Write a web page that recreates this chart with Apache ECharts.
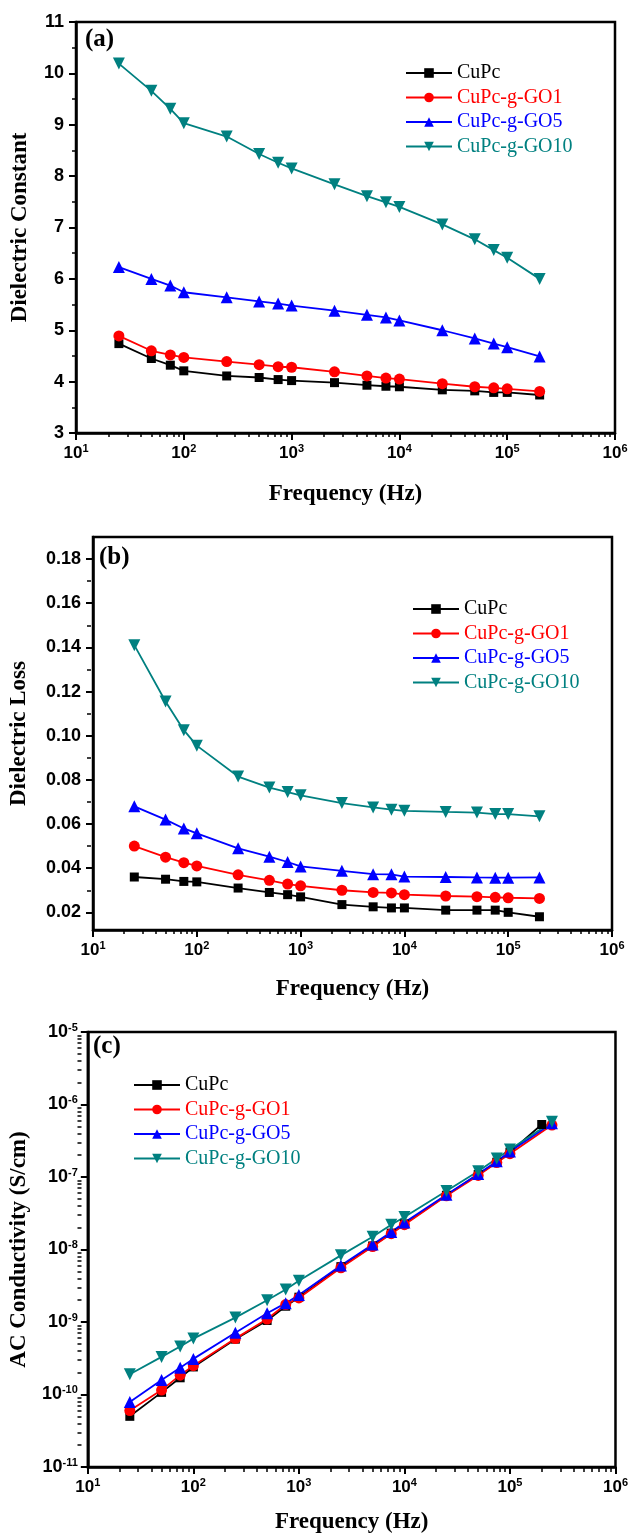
<!DOCTYPE html>
<html>
<head>
<meta charset="utf-8">
<script src="https://cdn.jsdelivr.net/npm/echarts@6/dist/echarts.min.js"></script>
<style>
  html, body { margin: 0; padding: 0; background: #fff; }
</style>
</head>
<body>
<div id="chart" style="width:631px;height:1535px;"></div>
<script>
// frequencies (Hz)
const freq = [25, 50, 75, 100, 250, 500, 750, 1000, 2500, 5000, 7500, 10000, 25000, 50000, 75000, 100000, 200000];
const freqCond = [25, 50, 75, 100, 250, 500, 750, 1000, 2500, 5000, 7500, 10000, 25000, 50000, 75000, 100000, 250000];

// (a) dielectric constant
const constCuPc = [4.74, 4.45, 4.32, 4.21, 4.11, 4.08, 4.04, 4.02, 3.98, 3.93, 3.91, 3.90, 3.84, 3.82, 3.79, 3.79, 3.74];
const constGO1 = [4.89, 4.60, 4.52, 4.47, 4.39, 4.33, 4.29, 4.28, 4.19, 4.11, 4.07, 4.05, 3.96, 3.90, 3.88, 3.86, 3.81];
const constGO5 = [6.23, 6.00, 5.87, 5.74, 5.64, 5.56, 5.52, 5.48, 5.38, 5.30, 5.25, 5.19, 5.00, 4.84, 4.74, 4.67, 4.49];
const constGO10 = [10.19, 9.66, 9.31, 9.03, 8.77, 8.43, 8.26, 8.15, 7.84, 7.61, 7.49, 7.40, 7.06, 6.77, 6.56, 6.41, 6.00];

// (b) dielectric loss
const lossCuPc = [0.036, 0.035, 0.034, 0.0338, 0.031, 0.029, 0.028, 0.027, 0.0235, 0.0225, 0.022, 0.022, 0.021, 0.021, 0.021, 0.020, 0.018];
const lossGO1 = [0.050, 0.045, 0.0425, 0.041, 0.037, 0.0345, 0.0328, 0.032, 0.030, 0.029, 0.0288, 0.028, 0.0274, 0.0271, 0.0268, 0.0266, 0.0263];
const lossGO5 = [0.068, 0.062, 0.058, 0.0558, 0.049, 0.0452, 0.0428, 0.0408, 0.0388, 0.0373, 0.0372, 0.0362, 0.0360, 0.0358, 0.0357, 0.0357, 0.0358];
const lossGO10 = [0.141, 0.1155, 0.1025, 0.0955, 0.0815, 0.0765, 0.0745, 0.073, 0.0695, 0.0675, 0.0665, 0.066, 0.0655, 0.0652, 0.0645, 0.0645, 0.0635];

// (c) AC conductivity (S/cm); CuPc uses freq, the others freqCond
const condCuPc = [5.0e-11, 1.07e-10, 1.7e-10, 2.4e-10, 5.8e-10, 1.05e-9, 1.65e-9, 2.2e-9, 5.8e-9, 1.12e-8, 1.68e-8, 2.25e-8, 5.6e-8, 1.08e-7, 1.6e-7, 2.2e-7, 5.3e-7];
const condGO1 = [6.0e-11, 1.15e-10, 1.85e-10, 2.5e-10, 5.9e-10, 1.1e-9, 1.74e-9, 2.15e-9, 5.6e-9, 1.1e-8, 1.65e-8, 2.2e-8, 5.5e-8, 1.05e-7, 1.58e-7, 2.1e-7, 5.2e-7];
const condGO5 = [7.9e-11, 1.58e-10, 2.33e-10, 3.1e-10, 7.1e-10, 1.32e-9, 1.82e-9, 2.35e-9, 6.0e-9, 1.17e-8, 1.75e-8, 2.35e-8, 5.7e-8, 1.1e-7, 1.65e-7, 2.25e-7, 5.5e-7];
const condGO10 = [1.9e-10, 3.3e-10, 4.6e-10, 5.9e-10, 1.15e-9, 2.0e-9, 2.8e-9, 3.7e-9, 8.3e-9, 1.5e-8, 2.2e-8, 2.8e-8, 6.4e-8, 1.2e-7, 1.8e-7, 2.4e-7, 5.8e-7];

const names = ['CuPc', 'CuPc-g-GO1', 'CuPc-g-GO5', 'CuPc-g-GO10'];
const colors = ['#000000', '#ff0000', '#0000ff', '#008080'];
const lossTicks = [0.02, 0.04, 0.06, 0.08, 0.10, 0.12, 0.14, 0.16, 0.18];
const lossMinorTicks = [0.03, 0.05, 0.07, 0.09, 0.11, 0.13, 0.15, 0.17];

const sans = 'Liberation Sans, Arial, sans-serif';
const serif = 'Liberation Serif, Times New Roman, serif';

// minor tick positions of a log axis, in log10 units for a helper value axis
function logMinor(lo, hi) {
    let out = [];
    for (let d = lo; d < hi; d++) {
        for (let k = 2; k <= 9; k++) out.push(d + Math.log10(k));
    }
    return out;
}

let myChart = echarts.init(document.getElementById('chart'));

let supRich = function (sup) {
    return {
        s: { fontSize: sup, fontWeight: 'bold', fontFamily: sans, color: '#000', verticalAlign: 'top', lineHeight: 12 }
    };
};
let powLabel = function (v) {
    return '10{s|' + Math.round(Math.log10(v)) + '}';
};

function mainX(grid, nameGap) {
    return {
        type: 'log', gridIndex: grid, min: 10, max: 1000000, logBase: 10,
        name: 'Frequency (Hz)', nameLocation: 'middle', nameGap: nameGap,
        nameTextStyle: { fontFamily: serif, fontWeight: 'bold', fontSize: 23, color: '#000' },
        axisLine: { onZero: false, lineStyle: { color: '#000', width: 2.5 } },
        axisTick: { inside: false, length: 7, lineStyle: { color: '#000', width: 2 } },
        axisLabel: {
            formatter: powLabel, fontSize: 17, fontWeight: 'bold', fontFamily: sans, color: '#000',
            margin: 10, lineHeight: 20, rich: supRich(11)
        },
        splitLine: { show: false }
    };
}
// helper axis that only draws minor ticks; placed on the far side and shifted onto the main axis
function minorAxis(grid, lo, hi, ticks, pos, shift) {
    return {
        type: 'value', gridIndex: grid, min: lo, max: hi, position: pos, offset: -shift,
        axisLine: { show: false, onZero: false },
        axisLabel: { show: false },
        splitLine: { show: false },
        axisTick: { show: true, inside: true, length: 4, customValues: ticks, lineStyle: { color: '#000', width: 1.5 } }
    };
}

let yName = { fontFamily: serif, fontWeight: 'bold', fontSize: 23, color: '#000' };
let yLine = { onZero: false, lineStyle: { color: '#000', width: 2.5 } };

let syms = [
    { symbol: 'rect', size: 9, rotate: 0 },
    { symbol: 'circle', size: 11, rotate: 0 },
    { symbol: 'triangle', size: 12, rotate: 0 },
    { symbol: 'triangle', size: 12, rotate: 180 }
];

let seriesData = [];
function addSeries(i, xi, yi, xs, ys) {
    seriesData.push({
        name: names[i],
        type: 'line',
        xAxisIndex: xi,
        yAxisIndex: yi,
        symbol: syms[i].symbol,
        symbolSize: syms[i].size,
        symbolRotate: syms[i].rotate,
        showAllSymbol: true,
        itemStyle: { color: colors[i] },
        lineStyle: { color: colors[i], width: 1.8 },
        data: xs.map(function (f, k) { return [f, ys[k]]; })
    });
}
[constCuPc, constGO1, constGO5, constGO10].forEach(function (ys, i) { addSeries(i, 0, 0, freq, ys); });
[lossCuPc, lossGO1, lossGO5, lossGO10].forEach(function (ys, i) { addSeries(i, 2, 1, freq, ys); });
addSeries(0, 4, 3, freq, condCuPc);
[condGO1, condGO5, condGO10].forEach(function (ys, i) { addSeries(i + 1, 4, 3, freqCond, ys); });

function makeLegend(left, top) {
    return {
        orient: 'vertical', left: left, top: top,
        itemWidth: 46, itemHeight: 12, itemGap: 4.5,
        selectedMode: false,
        textStyle: { fontFamily: serif, fontSize: 20, lineHeight: 20 },
        data: names.map(function (n, i) { return { name: n, textStyle: { color: colors[i] } }; })
    };
}

let option = {
    animation: false,
    backgroundColor: '#fff',
    grid: [
        { left: 76, top: 22, width: 539, height: 411, show: true, borderColor: '#000', borderWidth: 2.5 },
        { left: 91, top: 537, width: 521, height: 393, show: true, borderColor: '#000', borderWidth: 2.5 },
        { left: 84, top: 1032, width: 534, height: 436, show: true, borderColor: '#000', borderWidth: 2.5 }
    ],
    legend: [makeLegend(400, 58), makeLegend(407, 594), makeLegend(128, 1070)],
    xAxis: [
        mainX(0, 50),
        minorAxis(0, 1, 6, logMinor(1, 6), 'top', 411),
        mainX(1, 48),
        minorAxis(1, 1, 6, logMinor(1, 6), 'top', 393),
        mainX(2, 44),
        minorAxis(2, 1, 6, logMinor(1, 6), 'top', 436)
    ],
    yAxis: [
        {
            type: 'value', gridIndex: 0, min: 3, max: 11, interval: 1,
            name: 'Dielectric Constant', nameLocation: 'middle', nameGap: 44, nameTextStyle: yName,
            axisLine: yLine,
            axisTick: { inside: false, length: 7, lineStyle: { color: '#000', width: 2 } },
            minorTick: { show: true, splitNumber: 2, length: 4, lineStyle: { color: '#000', width: 1.5 } },
            axisLabel: { fontSize: 18, fontWeight: 'bold', fontFamily: sans, color: '#000', margin: 12 },
            splitLine: { show: false }
        },
        {
            type: 'value', gridIndex: 1, min: 0.012, max: 0.19,
            name: 'Dielectric Loss', nameLocation: 'middle', nameGap: 62, nameTextStyle: yName,
            axisLine: yLine,
            axisTick: { inside: false, length: 7, customValues: lossTicks, lineStyle: { color: '#000', width: 2 } },
            axisLabel: {
                customValues: lossTicks, fontSize: 18, fontWeight: 'bold', fontFamily: sans, color: '#000', margin: 12,
                formatter: function (v) { return v.toFixed(2); }
            },
            splitLine: { show: false }
        },
        minorAxis(1, 0.012, 0.19, lossMinorTicks, 'right', 521),
        {
            type: 'log', gridIndex: 2, min: 1e-11, max: 1e-5, logBase: 10,
            name: 'AC Conductivity (S/cm)', nameLocation: 'middle', nameGap: 50, nameTextStyle: yName,
            axisLine: yLine,
            axisTick: { inside: false, length: 7, lineStyle: { color: '#000', width: 2 } },
            axisLabel: {
                formatter: powLabel, fontSize: 18, fontWeight: 'bold', fontFamily: sans, color: '#000',
                margin: 10, lineHeight: 20, rich: supRich(11)
            },
            splitLine: { show: false }
        },
        minorAxis(2, -11, -5, logMinor(-11, -5), 'right', 534)
    ],
    graphic: [
        { type: 'text', left: 85, top: 27, style: { text: '(a)', font: 'bold 25px ' + serif, fill: '#000' } },
        { type: 'text', left: 99, top: 545, style: { text: '(b)', font: 'bold 25px ' + serif, fill: '#000' } },
        { type: 'text', left: 93, top: 1034, style: { text: '(c)', font: 'bold 25px ' + serif, fill: '#000' } }
    ],
    series: seriesData
};
myChart.setOption(option);

window.addEventListener('resize', function () {
    myChart.resize();
});
</script>
</body>
</html>
